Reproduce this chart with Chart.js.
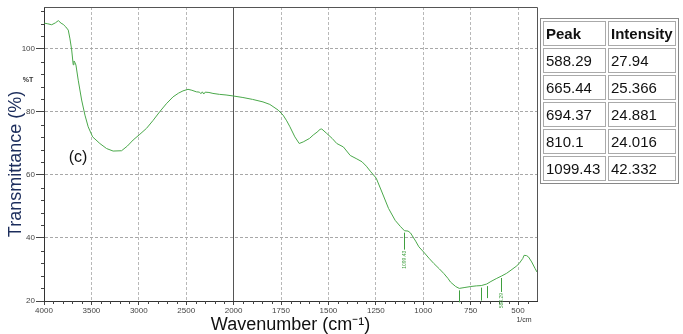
<!DOCTYPE html>
<html><head><meta charset="utf-8">
<script src="https://cdn.jsdelivr.net/npm/chart.js@4.4.0/dist/chart.umd.min.js"></script>
<style>
html,body{margin:0;padding:0;background:#fff;}
#wrap{position:relative;width:683px;height:334px;overflow:hidden;background:#fff;}
canvas{position:absolute;left:0;top:0;}
#peaks{position:absolute;left:540px;top:18px;border-collapse:separate;border-spacing:2px;border:1px solid #888;font-family:'Liberation Sans',Arial,sans-serif;font-size:15px;color:#111;}
#peaks td,#peaks th{border:1px solid #aaa;height:23px;line-height:23px;padding:0 2px;text-align:left;white-space:nowrap;}
#peaks th{font-weight:bold;}
#peaks td.c1,#peaks th.c1{width:57px;}
#peaks td.c2,#peaks th.c2{width:53px;}
</style></head><body>
<div id="wrap"><canvas id="c" width="683" height="334"></canvas><table id="peaks"></table></div>
<script>
// ---- data ----
const wavenumbers = [3997,3960,3919,3880,3849,3820,3797,3770,3744,3726,3708,3692,3684,3675,3663,3639,3603,3568,3534,3487,3411,3340,3271,3182,3120,3060,2990,2919,2850,2779,2710,2639,2580,2534,2481,2440,2393,2360,2345,2330,2315,2300,2260,2218,2150,2080,2007,1951,1900,1845,1809,1765,1739,1720,1703,1677,1654,1633,1600,1580,1560,1544,1535,1509,1480,1456,1421,1385,1350,1323,1300,1279,1248,1218,1183,1148,1121,1099,1080,1067,1040,1023,997,970,944,915,891,870,856,829,810,780,749,720,694,665,643,615,588,560,537,510,494,475,468,455,445,428,410,400];
const transmittance = [108.2,108.0,107.7,108.3,109.0,108.2,107.8,107.0,106.0,103.2,99.7,95.0,96.2,95.8,94.9,90.1,83.8,79.0,75.3,72.1,70.0,68.4,67.6,67.7,69.2,71.1,72.9,74.8,77.3,80.1,82.6,84.8,86.0,86.7,87.2,86.9,86.4,86.3,85.8,86.4,85.7,86.3,86.2,85.9,85.6,85.4,85.1,84.6,84.0,83.2,82.4,80.6,79.0,77.2,75.3,72.1,70.0,70.5,71.6,72.7,73.6,74.5,74.6,73.2,71.6,70.0,68.9,66.2,65.1,64.2,62.8,61.2,59.0,54.6,49.4,45.6,43.7,42.3,42.2,41.6,39.0,37.2,35.5,33.6,31.9,30.2,28.7,27.2,26.0,24.6,24.0,24.3,24.6,24.8,24.9,25.4,26.2,27.1,27.9,28.8,29.8,31.0,31.9,33.5,34.5,34.4,34.0,32.4,30.3,29.2];
const peakPositions = [588.29, 665.44, 694.37, 810.1, 1099.43];
const peakIntensities = [27.94, 25.366, 24.881, 24.016, 42.332];
const xMajorTicks = [4000,3500,3000,2500,2000,1750,1500,1250,1000,750,500];
const yMajorTicks = [20,40,60,80,100];
const tableHeaders = ['Peak','Intensity'];

// ---- split wavenumber axis (scale doubles below 2000 1/cm) ----
function toU(w){ return w >= 2000 ? (4000 - w) / 2 : 1000 + (2000 - w); }
function fromU(u){ return u <= 1000 ? 4000 - 2 * u : 2000 - (u - 1000); }

// table
const tbl = document.getElementById('peaks');
let html = '<tr><th class="c1">' + tableHeaders[0] + '</th><th class="c2">' + tableHeaders[1] + '</th></tr>';
peakPositions.forEach((p, i) => {
  html += '<tr><td class="c1">' + p + '</td><td class="c2">' + peakIntensities[i] + '</td></tr>';
});
tbl.innerHTML = html;

const FONT = "'Liberation Sans', Arial, sans-serif";

const decor = {
  id: 'decor',
  afterDraw(chart) {
    const {ctx, chartArea: a, scales: {x, y}} = chart;
    ctx.save();
    // top & right frame
    ctx.strokeStyle = '#555'; ctx.lineWidth = 1;
    ctx.beginPath();
    ctx.moveTo(a.left, a.top + 0.5); ctx.lineTo(a.right + 0.5, a.top + 0.5);
    ctx.lineTo(a.right + 0.5, a.bottom);
    ctx.stroke();
    // minor ticks
    ctx.strokeStyle = '#444';
    ctx.beginPath();
    for (let u = 50; u < 2600; u += 50) {
      if (u % 250 === 0) continue;
      const px = Math.round(x.getPixelForValue(u)) + 0.5;
      ctx.moveTo(px, a.bottom); ctx.lineTo(px, a.bottom + 3);
    }
    for (let v = 24; v <= 112; v += 4) {
      if (v % 20 === 0) continue;
      const py = Math.round(y.getPixelForValue(v)) + 0.5;
      ctx.moveTo(a.left - 3, py); ctx.lineTo(a.left, py);
    }
    ctx.stroke();
    // peak markers
    const len = [14, 12, 13, 12, 17];
    ctx.strokeStyle = '#3f9f3f'; ctx.fillStyle = '#3f9f3f';
    peakPositions.forEach((p, i) => {
      const px = Math.round(x.getPixelForValue(toU(p))) + 0.5;
      const py = y.getPixelForValue(peakIntensities[i]) + 2;
      ctx.beginPath(); ctx.moveTo(px, py); ctx.lineTo(px, py + len[i]); ctx.stroke();
    });
    ctx.font = '5px ' + FONT;
    ctx.textAlign = 'right'; ctx.textBaseline = 'middle';
    [4, 0].forEach(i => {
      const px = x.getPixelForValue(toU(peakPositions[i]));
      const py = y.getPixelForValue(peakIntensities[i]) + 2 + len[i] + 1;
      ctx.save(); ctx.translate(px, py); ctx.rotate(-Math.PI / 2);
      ctx.fillText(String(peakPositions[i]), 0, 0);
      ctx.restore();
    });
    // %T label
    ctx.fillStyle = '#333'; ctx.font = 'bold 7px ' + FONT;
    ctx.textAlign = 'center'; ctx.textBaseline = 'middle';
    ctx.fillText('%T', 28, y.getPixelForValue(90));
    // (c)
    ctx.fillStyle = '#111'; ctx.font = '16px ' + FONT;
    ctx.fillText('(c)', 78, 158);
    // 1/cm
    ctx.font = '7px ' + FONT; ctx.fillStyle = '#333';
    ctx.fillText('1/cm', 524, 320);
    // y title
    ctx.save();
    ctx.translate(16, 164); ctx.rotate(-Math.PI / 2);
    ctx.font = '18px ' + FONT; ctx.fillStyle = '#1c2d5c';
    ctx.fillText('Transmittance (%)', 0, 0);
    ctx.restore();
    ctx.restore();
  }
};

new Chart(document.getElementById('c'), {
  type: 'line',
  data: {
    datasets: [{
      data: wavenumbers.map((w, i) => ({x: toU(w), y: transmittance[i]})),
      borderColor: '#4aa84a', borderWidth: 1, pointRadius: 0, tension: 0, fill: false
    }]
  },
  options: {
    responsive: false, animation: false, devicePixelRatio: 1,
    layout: {padding: {left: 0, right: 146, top: 7, bottom: 0}},
    plugins: {legend: {display: false}, tooltip: {enabled: false}},
    scales: {
      x: {
        type: 'linear', min: 0, max: 2600,
        afterBuildTicks: s => { s.ticks = xMajorTicks.map(w => ({value: toU(w)})); },
        afterFit: s => { s.height = 33; },
        ticks: {autoSkip: false, maxRotation: 0, padding: 1, color: '#444',
          font: {family: FONT, size: 8}, callback: v => String(Math.round(fromU(v)))},
        grid: {
          color: c => (c.tick && c.tick.value === 0) ? 'rgba(0,0,0,0)' : (c.tick && c.tick.value === 1000 ? '#555' : '#b8b8b8'),
          tickColor: '#444', tickLength: 4
        },
        border: {color: '#333', dash: c => (c.tick && c.tick.value === 1000) ? [] : [3, 2]},
        title: {display: true, text: 'Wavenumber (cm\u207B\u00B9)', color: '#111',
          font: {family: FONT, size: 18, lineHeight: 1}, padding: {top: 0, bottom: 0}}
      },
      y: {
        type: 'linear', min: 20, max: 113.33,
        afterBuildTicks: s => { s.ticks = yMajorTicks.map(v => ({value: v})); },
        afterFit: s => { s.width = 44; },
        ticks: {padding: 1, color: '#444', font: {family: FONT, size: 8}},
        grid: {color: c => (c.tick && c.tick.value === 20) ? 'rgba(0,0,0,0)' : '#a8a8a8', tickColor: '#444', tickLength: 8},
        border: {color: '#333', dash: [3, 2]}
      }
    }
  },
  plugins: [decor]
});
</script>
</body></html>
